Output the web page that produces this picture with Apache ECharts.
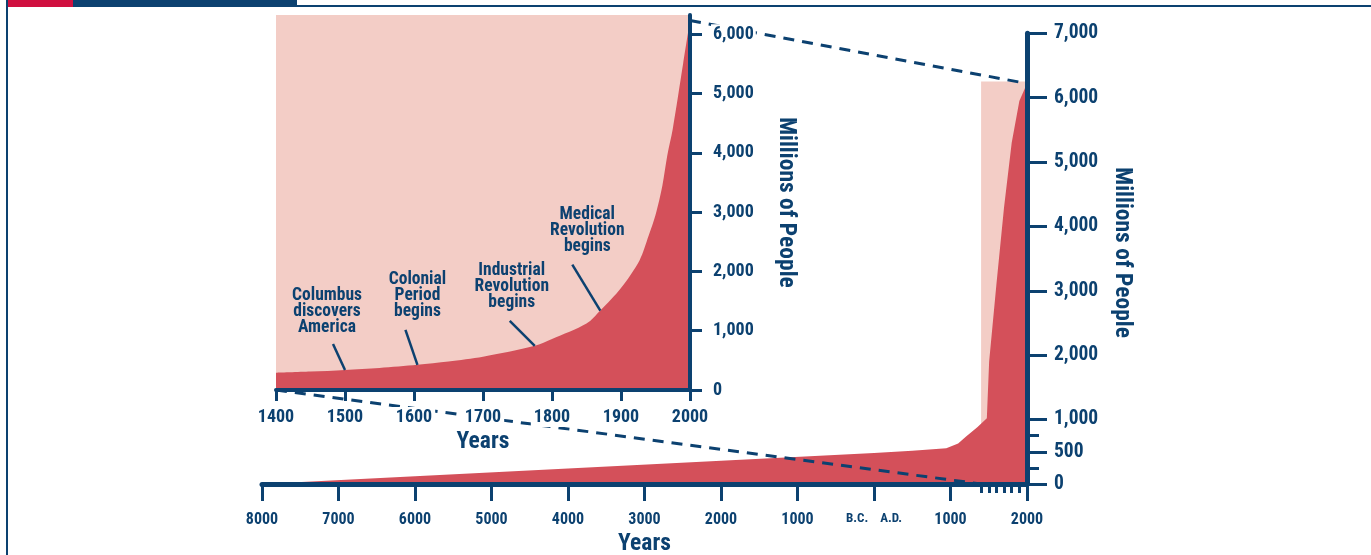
<!DOCTYPE html>
<html>
<head>
<meta charset="utf-8">
<script src="https://cdn.jsdelivr.net/npm/echarts@6/dist/echarts.min.js"></script>
<style>
  html, body { margin: 0; padding: 0; background: #fff; }
  #chart { width: 1371px; height: 555px; }
</style>
</head>
<body>
<div id="chart"></div>
<script>
// World population in millions of people.
// Detail panel: 1400 to 2000.
const detailYears = [1400, 1450, 1500, 1550, 1605, 1650, 1700, 1775, 1800, 1850, 1870, 1900, 1927, 1940, 1950, 1960, 1967, 1975, 1990, 2000];
const detailPop   = [290, 310, 338, 372, 425, 480, 560, 745, 860, 1120, 1340, 1720, 2190, 2600, 2950, 3450, 3950, 4400, 5500, 6230];

// Long view: 8000 B.C. (negative years) to A.D. 2000.
const historyYears = [-8000, -6000, -4000, -2000, 0, 500, 945, 1100, 1200, 1350, 1475, 1505, 1600, 1700, 1800, 1900, 2000];
const historyPop   = [0, 120, 240, 360, 480, 515, 555, 630, 735, 880, 1020, 1900, 3100, 4300, 5300, 5950, 6220];

// Span of the long view that the detail panel enlarges.
const zoomYears = [1400, 2000];
const zoomTop = 6250;

// Historical milestones marked on the detail curve (years are points of detailYears).
const eventNames = ['Columbus\ndiscovers\nAmerica', 'Colonial\nPeriod\nbegins', 'Industrial\nRevolution\nbegins', 'Medical\nRevolution\nbegins'];
const eventYears = [1500, 1605, 1775, 1870];

// Axis ticks and labels.
const detailYearTicks = [1400, 1500, 1600, 1700, 1800, 1900, 2000];
const detailPopTicks = [0, 1000, 2000, 3000, 4000, 5000, 6000];
const historyYearTicks = [-8000, -7000, -6000, -5000, -4000, -3000, -2000, -1000, 0, 1000, 2000];
const historyMinorYearTicks = [1400, 1500, 1600, 1700, 1800, 1900];
const historyPopTicks = [0, 500, 1000, 2000, 3000, 4000, 5000, 6000, 7000];
const historyMinorPopTicks = [250, 750];
const eraLabel = 'B.C.    A.D.';
const xTitle = 'Years';
const yTitle = 'Millions of People';

const NAVY = '#0c4170';
const PINK = '#f3cdc6';
const RED = '#d4505a';
const FONT = '"Roboto Condensed", "Open Sans Condensed", "Liberation Sans", sans-serif';
const thousands = v => v.toLocaleString('en-US');

// Label layout for each milestone: leader line start and text centre, relative to the curve point.
const eventLayout = [
  { lx: -12, ly: -26, tx: -18, ty: -58 },
  { lx: -12, ly: -35, tx: 0,   ty: -69 },
  { lx: -25, ly: -25, tx: -23, ty: -59 },
  { lx: -28, ly: -46, tx: -13, ty: -80 }
];

const pairs = (xs, ys) => xs.map((x, i) => [x, ys[i]]);

const chart = echarts.init(document.getElementById('chart'), null, { renderer: 'canvas' });

const titleStyle = { color: NAVY, fontFamily: FONT, fontWeight: 'bold', fontSize: 23.5 };

const option = {
  animation: false,
  grid: [
    { left: 276, top: 15, width: 414, height: 375, show: true, backgroundColor: PINK, borderWidth: 0, outerBoundsMode: 'none', containLabel: false },
    { left: 262, top: 33.3, width: 765, height: 450.7, show: false, outerBoundsMode: 'none', containLabel: false }
  ],
  xAxis: [
    {
      gridIndex: 0, type: 'value', min: 1400, max: 2000, interval: 100, position: 'bottom', z: 10,
      axisLine: { show: true, onZero: false, lineStyle: { color: NAVY, width: 4 } },
      axisTick: { show: true, length: 11, customValues: detailYearTicks, lineStyle: { color: NAVY, width: 3 } },
      axisLabel: { margin: 17, customValues: detailYearTicks, color: NAVY, fontFamily: FONT, fontWeight: 'bold', fontSize: 18,
        backgroundColor: '#fff', padding: [1, 3], formatter: v => String(v) },
      splitLine: { show: false },
      name: xTitle, nameLocation: 'middle', nameGap: 40, nameMoveOverlap: false, nameTextStyle: titleStyle
    },
    {
      gridIndex: 1, type: 'value', min: -8000, max: 2000, position: 'bottom', z: 3,
      axisLine: { show: true, onZero: false, lineStyle: { color: NAVY, width: 5 } },
      axisTick: { show: true, length: 17, customValues: historyYearTicks, lineStyle: { color: NAVY, width: 3 } },
      axisLabel: {
        margin: 28, customValues: historyYearTicks, color: NAVY, fontFamily: FONT, fontWeight: 'bold', fontSize: 16,
        formatter: v => v === 0 ? '{era|' + eraLabel + '}' : String(Math.abs(v)),
        rich: { era: { color: NAVY, fontFamily: FONT, fontWeight: 'bold', fontSize: 13 } }
      },
      splitLine: { show: false },
      name: xTitle, nameLocation: 'middle', nameGap: 48, nameMoveOverlap: false, nameTextStyle: titleStyle
    },
    {
      gridIndex: 1, type: 'value', min: -8000, max: 2000, position: 'bottom', z: 3,
      axisLine: { show: false, onZero: false },
      axisTick: { show: true, length: 9, customValues: historyMinorYearTicks, lineStyle: { color: NAVY, width: 3 } },
      axisLabel: { show: false },
      splitLine: { show: false }
    }
  ],
  yAxis: [
    {
      gridIndex: 0, type: 'value', min: 0, max: 6324, position: 'right', z: 10,
      axisLine: { show: true, onZero: false, lineStyle: { color: NAVY, width: 4 } },
      axisTick: { show: true, length: 12, customValues: detailPopTicks, lineStyle: { color: NAVY, width: 3 } },
      axisLabel: { margin: 21, customValues: detailPopTicks, color: NAVY, fontFamily: FONT, fontWeight: 'bold', fontSize: 18,
        backgroundColor: '#fff', padding: [1, 2], formatter: thousands },
      splitLine: { show: false },
      name: yTitle, nameLocation: 'middle', nameRotate: -90, nameGap: 84, nameMoveOverlap: false, nameTextStyle: titleStyle
    },
    {
      gridIndex: 1, type: 'value', min: 0, max: 7000, position: 'right', z: 3,
      axisLine: { show: true, onZero: false, lineStyle: { color: NAVY, width: 5 } },
      axisTick: { show: true, length: 20, customValues: historyPopTicks, lineStyle: { color: NAVY, width: 3 } },
      axisLabel: { margin: 27, customValues: historyPopTicks, color: NAVY, fontFamily: FONT, fontWeight: 'bold', fontSize: 19.5, formatter: thousands },
      splitLine: { show: false },
      name: yTitle, nameLocation: 'middle', nameRotate: -90, nameGap: 83, nameMoveOverlap: false,
      nameTextStyle: Object.assign({}, titleStyle, { padding: [0, 12, 0, 0] })
    },
    {
      gridIndex: 1, type: 'value', min: 0, max: 7000, position: 'right', z: 3,
      axisLine: { show: false, onZero: false },
      axisTick: { show: true, length: 12, customValues: historyMinorPopTicks, lineStyle: { color: NAVY, width: 3 } },
      axisLabel: { show: false },
      splitLine: { show: false }
    }
  ],
  series: [
    {
      name: 'detail', type: 'line', xAxisIndex: 0, yAxisIndex: 0, data: pairs(detailYears, detailPop),
      smooth: 0.3, showSymbol: false, silent: true, z: 2,
      lineStyle: { width: 0 }, areaStyle: { color: RED, opacity: 1 }
    },
    {
      name: 'zoom span', type: 'line', xAxisIndex: 1, yAxisIndex: 1, data: zoomYears.map(y => [y, zoomTop]),
      showSymbol: false, silent: true, z: 1,
      lineStyle: { width: 0 }, areaStyle: { color: PINK, opacity: 1 }
    },
    {
      name: 'history', type: 'line', xAxisIndex: 1, yAxisIndex: 1, data: pairs(historyYears, historyPop),
      smooth: false, showSymbol: false, silent: true, z: 2,
      lineStyle: { width: 0 }, areaStyle: { color: RED, opacity: 1 }
    }
  ]
};

chart.setOption(option);

// Pixel helpers through each series' own coordinate system.
const toDetail = pt => chart.convertToPixel({ seriesIndex: 0 }, pt);
const toHistory = pt => chart.convertToPixel({ seriesIndex: 2 }, pt);

const elements = [
  // page furniture
  { type: 'rect', shape: { x: 6, y: 0, width: 2, height: 555 }, style: { fill: NAVY }, z: 0 },
  { type: 'rect', shape: { x: 8, y: 0, width: 65, height: 7 }, style: { fill: '#d0103f' }, z: 0 },
  { type: 'rect', shape: { x: 73, y: 0, width: 224, height: 7 }, style: { fill: NAVY }, z: 0 },
  { type: 'rect', shape: { x: 297, y: 5, width: 1074, height: 2 }, style: { fill: NAVY }, z: 0 }
];

// Dashed guides joining the detail panel's corners to the same points in the long view.
const lastDetail = [detailYears[detailYears.length - 1], detailPop[detailPop.length - 1]];
const lastHistory = [historyYears[historyYears.length - 1], historyPop[historyPop.length - 1]];
const guides = [
  [toDetail(lastDetail), toHistory(lastHistory)],
  [toDetail([zoomYears[0], 0]), toHistory([zoomYears[0], 0])]
];
guides.forEach(([a, b]) => {
  elements.push({
    type: 'line', z: 5, silent: true,
    shape: { x1: a[0], y1: a[1], x2: b[0], y2: b[1] },
    style: { stroke: NAVY, lineWidth: 3, lineDash: [11, 8] }
  });
});

// Milestone labels with leader lines.
eventYears.forEach((yr, i) => {
  const pop = detailPop[detailYears.indexOf(yr)];
  const p = toDetail([yr, pop]);
  const L = eventLayout[i];
  elements.push({
    type: 'line', z: 6, silent: true,
    shape: { x1: p[0] + L.lx, y1: p[1] + L.ly, x2: p[0], y2: p[1] },
    style: { stroke: NAVY, lineWidth: 2.5 }
  });
  elements.push({
    type: 'text', z: 6, silent: true,
    x: p[0] + L.tx, y: p[1] + L.ty,
    style: {
      text: eventNames[i], x: 0, y: 0,
      fill: NAVY, fontFamily: FONT, fontWeight: 'bold', fontSize: 17.5, lineHeight: 16,
      align: 'center', verticalAlign: 'middle', textAlign: 'center', textVerticalAlign: 'middle'
    }
  });
});

chart.setOption({ graphic: { elements: elements } });
</script>
</body>
</html>
